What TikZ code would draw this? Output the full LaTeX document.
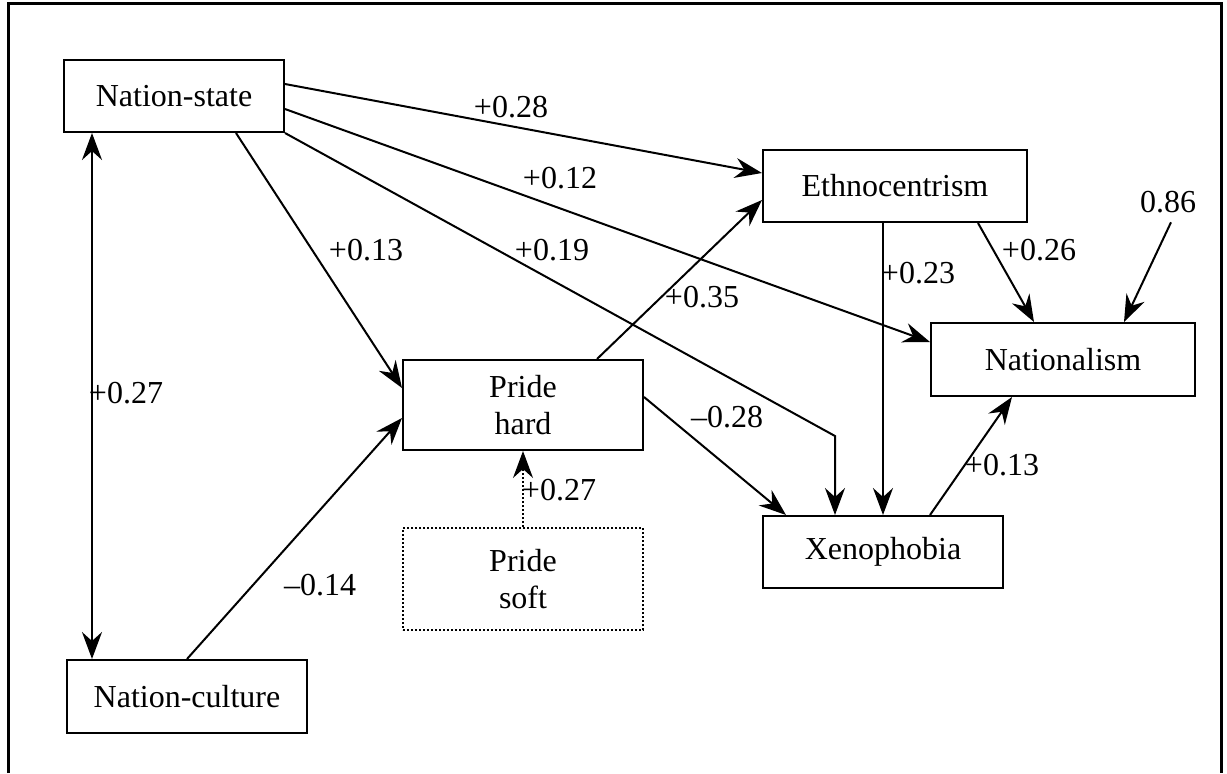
\documentclass[tikz,border=0pt]{standalone}
\usepackage{fontspec}
\setmainfont{Liberation Serif}
\usetikzlibrary{arrows.meta,calc}
\begin{document}
\begin{tikzpicture}[
  x=0.5pt, y=-0.5pt,
  every node/.style={font=\fontsize{16}{18.5}\selectfont},
  box/.style={draw, line width=1pt, align=center, inner sep=0pt},
  softbox/.style={box, line width=0.9pt, dash pattern=on 0.9pt off 1.1pt},
  lbl/.style={inner sep=0pt},
  >={Stealth[length=13.5pt,width=10pt,inset=4.5pt]},
  arr/.style={->, line width=1pt}
]
\useasboundingbox (0,0) rectangle (1227,773);
\draw[line width=1.5pt] (8,773) -- (8,3) -- (1221,3) -- (1221,773);

\node[box, minimum width=110pt, minimum height=36pt] (ns) at (174,96) {Nation-state};
\node[box, minimum width=120pt, minimum height=36.5pt] (nc) at (187,696.5) {Nation-culture};
\node[box, minimum width=120pt, minimum height=45pt] (ph) at (523,405) {Pride\\hard};
\node[softbox, minimum width=120pt, minimum height=51pt] (ps) at (523,579) {Pride\\soft};
\node[box, minimum width=132pt, minimum height=36pt] (eth) at (895,186) {Ethnocentrism};
\node[box, minimum width=132pt, minimum height=36.5pt] (nat) at (1063,359.5) {Nationalism};
\node[box, minimum width=120pt, minimum height=36pt] (xen) at (883,552) {Xenophobia};
\node[lbl] (e) at (1168,202) {0.86};

\draw[arr] ($(ns.east)+(0,-12)$) -- ($(eth.west)+(0,-13)$);
\draw[arr] ($(ns.east)+(0,13)$) -- ($(nat.west)+(0,-17.5)$);
\draw[arr] (ns.south east) -- ($(xen.north)+(-48,-79)$) -- ($(xen.north)+(-48,0)$);
\draw[arr] ($(ns.south)+(62,0)$) -- ($(ph.west)+(0,-17)$);
\draw[arr] (nc.north) -- ($(ph.west)+(0,13)$);
\draw[arr, <->] ($(ns.south)+(-82,0)$) -- ($(nc.north)+(-95,0)$);
\draw[arr] ($(ph.north)+(74,0)$) -- ($(eth.west)+(0,14)$);
\draw[arr] ($(ph.east)+(0,-8)$) -- ($(xen.north)+(-97,0)$);
\draw[arr, line width=0.8pt, dash pattern=on 0.9pt off 1.1pt] (ps.north) -- (ph.south);
\draw[arr] ($(eth.south)+(-12,0)$) -- (xen.north);
\draw[arr] ($(eth.south)+(83,0)$) -- ($(nat.north)+(-29,0)$);
\draw[arr] ($(e.south)+(3,9)$) -- ($(nat.north)+(61,0)$);
\draw[arr] ($(xen.north)+(47,0)$) -- ($(nat.south)+(-51,0)$);

\node[lbl] (l1) at (511,107) {+0.28};
\node[lbl] (l2) at (560,178) {+0.12};
\node[lbl] (l3) at (552,250) {+0.19};
\node[lbl] (l4) at (366,250) {+0.13};
\node[lbl] (l5) at (320,585) {–0.14};
\node[lbl] (l6) at (126,393) {+0.27};
\node[lbl] (l7) at (702,297) {+0.35};
\node[lbl] (l8) at (727,417) {–0.28};
\node[lbl] (l9) at (559,490) {+0.27};
\node[lbl] (l10) at (918,273) {+0.23};
\node[lbl] (l11) at (1039,250) {+0.26};
\node[lbl] (l12) at (1002,465) {+0.13};
\end{tikzpicture}
\end{document}
